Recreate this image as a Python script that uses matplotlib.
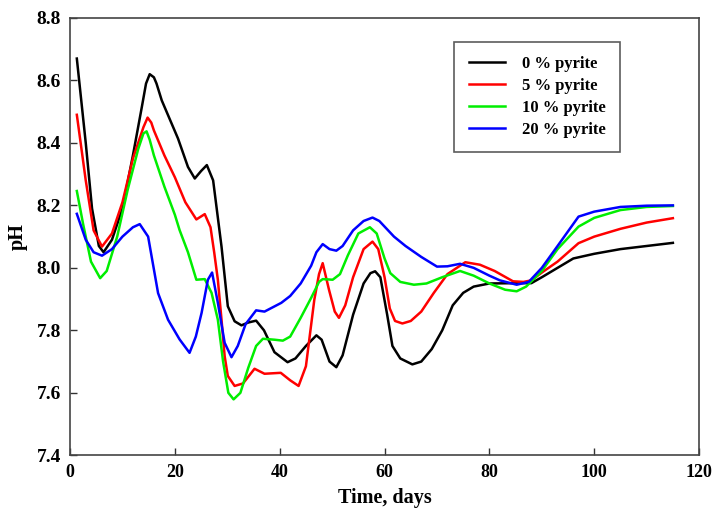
import matplotlib
matplotlib.use('Agg')
import matplotlib.pyplot as plt

plt.rcParams['font.family'] = 'Liberation Serif'
plt.rcParams['font.weight'] = 'bold'

# 0 % pyrite
day_0 = [1.3, 3, 4.2, 5.5, 6.4, 8, 10, 12, 13.7, 14.5, 15.2, 16, 16.5, 17.5, 20.6, 22.5, 23.8,
         25, 26.1, 27.3, 28.9, 30.1, 31.4, 32.7, 34, 35.5, 37, 39, 41.5, 43, 45, 47, 48, 49.5,
         50.8, 52, 54, 56, 57.3, 58.2, 59.2, 60.5, 61.5, 63, 65.3, 67, 69, 71, 73, 75, 77, 80,
         85, 88, 90, 93, 96, 100, 105, 110, 115]
ph_0 = [8.67, 8.40, 8.19, 8.07, 8.05, 8.09, 8.19, 8.36, 8.515, 8.59, 8.62, 8.61, 8.59, 8.536,
        8.414, 8.323, 8.286, 8.31, 8.329, 8.28, 8.068, 7.877, 7.829, 7.816, 7.825, 7.831, 7.80,
        7.73, 7.698, 7.71, 7.75, 7.784, 7.77, 7.70, 7.682, 7.72, 7.85, 7.95, 7.983, 7.989,
        7.97, 7.85, 7.75, 7.71, 7.691, 7.70, 7.74, 7.80, 7.88, 7.92, 7.94, 7.95, 7.951, 7.951,
        7.97, 8.00, 8.03, 8.045, 8.06, 8.07, 8.08]

# 5 % pyrite
day_5 = [1.3, 3, 4.5, 6.1, 8, 10, 12, 14, 14.8, 15.5, 16, 18, 20, 22, 24.1, 25.7, 26.8, 27.5,
         28.2, 28.9, 29.5, 30.1, 31.4, 33, 35.2, 37.1, 40.2, 42, 43.6, 45, 46.6, 47.5, 48.2,
         49.4, 50.5, 51.3, 52.5, 54, 56, 57.7, 58.8, 60, 61, 62, 63.4, 65, 67, 69.4, 72, 75.4,
         78.2, 81, 84.5, 86.5, 88, 90, 93, 97, 100, 105, 110, 115]
ph_5 = [8.49, 8.28, 8.12, 8.068, 8.11, 8.21, 8.35, 8.45, 8.481, 8.465, 8.44, 8.36, 8.29, 8.21,
        8.155, 8.172, 8.13, 8.05, 7.962, 7.834, 7.717, 7.654, 7.622, 7.63, 7.677, 7.661,
        7.664, 7.64, 7.622, 7.685, 7.898, 7.98, 8.015, 7.93, 7.86, 7.84, 7.88, 7.97, 8.06,
        8.084, 8.06, 7.97, 7.87, 7.83, 7.822, 7.83, 7.86, 7.92, 7.98, 8.018, 8.01, 7.99, 7.957,
        7.955, 7.96, 7.985, 8.02, 8.079, 8.10, 8.125, 8.145, 8.159]

# 10 % pyrite
day_10 = [1.3, 2.5, 4, 5.75, 7, 9, 11, 13, 14, 14.6, 15.2, 16, 18, 20, 20.9, 22.5, 24.1, 25.7,
          27, 28.2, 29.2, 30.2, 31.2, 32.5, 34, 35.5, 36.8, 39, 40.6, 42, 44, 46, 47.5, 48.2,
          50.1, 51.5, 53, 55, 57.2, 58.5, 60, 61.1, 63, 65.6, 68, 71, 74.4, 77, 80, 83, 85.2,
          87, 90, 93, 97, 100, 105, 110, 115]
ph_10 = [8.246, 8.14, 8.02, 7.967, 7.99, 8.10, 8.25, 8.38, 8.43, 8.437, 8.41, 8.36, 8.26, 8.17,
         8.121, 8.05, 7.962, 7.964, 7.92, 7.834, 7.70, 7.60, 7.579, 7.60, 7.68, 7.75, 7.773,
         7.77, 7.767, 7.78, 7.84, 7.904, 7.955, 7.964, 7.962, 7.98, 8.04, 8.11, 8.13, 8.11,
         8.03, 7.983, 7.955, 7.946, 7.95, 7.97, 7.99, 7.975, 7.95, 7.93, 7.925, 7.94, 7.99,
         8.06, 8.132, 8.16, 8.185, 8.195, 8.198]

# 20 % pyrite
day_20 = [1.3, 3, 4.5, 6.1, 8, 10, 12, 13.3, 14.9, 16.8, 18.7, 20.9, 22.8, 24, 25.1, 26.3, 27.1,
          28.2, 29.5, 30.8, 32, 33.5, 35.5, 37.1, 40.3, 42, 44, 46, 47, 48.2, 49.5, 50.8, 52,
          54, 56, 57.7, 59, 61.8, 64, 67, 70, 72, 74.4, 77, 80, 82, 85.2, 87.5, 90, 93, 97,
          100, 105, 110, 115]
ph_20 = [8.173, 8.09, 8.05, 8.039, 8.06, 8.10, 8.13, 8.14, 8.10, 7.919, 7.834, 7.771, 7.728,
         7.78, 7.856, 7.962, 7.985, 7.888, 7.76, 7.714, 7.75, 7.82, 7.864, 7.86, 7.888, 7.91,
         7.95, 8.007, 8.05, 8.076, 8.06, 8.055, 8.07, 8.12, 8.15, 8.161, 8.15, 8.10, 8.07,
         8.035, 8.004, 8.005, 8.013, 8.00, 7.975, 7.96, 7.946, 7.955, 8.00, 8.07, 8.164, 8.18,
         8.195, 8.199, 8.2]

labels = ['0 % pyrite', '5 % pyrite', '10 % pyrite', '20 % pyrite']
colors = ['black', 'red', '#00ee00', 'blue']

fig = plt.figure(figsize=(7.13, 5.13), dpi=100)
ax = fig.add_axes([0.0982, 0.1125, 0.8823, 0.8525])

series = [(day_0, ph_0), (day_5, ph_5), (day_10, ph_10), (day_20, ph_20)]
for (d, p), lab, c in zip(series, labels, colors):
    ax.plot(d, p, color=c, lw=1.8, label=lab, solid_joinstyle='round')

ax.set_xlim(0, 120)
ax.set_ylim(7.4, 8.8)
ax.set_xticks(range(0, 121, 20))
ax.set_yticks([7.4, 7.6, 7.8, 8.0, 8.2, 8.4, 8.6, 8.8])
ax.tick_params(direction='in', length=5, width=1, colors='#333333', labelcolor='black')
ax.tick_params(axis='x', labelsize=13, pad=6)
ax.tick_params(axis='y', labelsize=14, pad=6.5)
for s in ax.spines.values():
    s.set_linewidth(1.2)
    s.set_color('#444444')

ax.set_xlabel('Time, days', fontsize=14.5, fontweight='bold', labelpad=5)
ax.set_ylabel('pH', fontsize=14.5, fontweight='bold', labelpad=6)

leg = ax.legend(loc='upper left', bbox_to_anchor=(0.611, 0.945), borderaxespad=0,
                fancybox=False, edgecolor='#333333', fontsize=12, handlelength=2.2,
                borderpad=0.85, labelspacing=0.35, handletextpad=1.0)
leg.get_frame().set_linewidth(1.2)

fig.savefig('out.png', dpi=100)
